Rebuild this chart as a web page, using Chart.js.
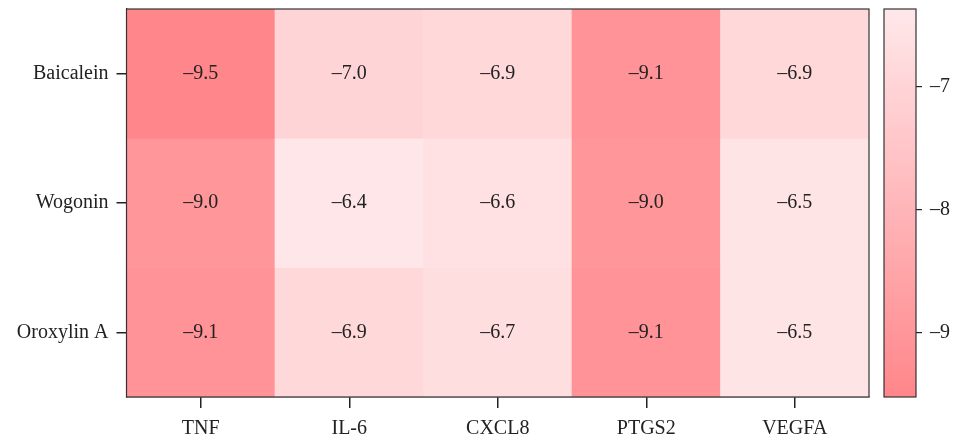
<!DOCTYPE html>
<html>
<head>
<meta charset="utf-8">
<script src="https://cdn.jsdelivr.net/npm/chart.js@4"></script>
<style>
  html, body { margin: 0; padding: 0; background: #fff; }
  #wrap { position: relative; width: 955px; height: 437px; }
  #heat { position: absolute; left: 0; top: 0; }
  #bar { position: absolute; left: 870px; top: 0; }
</style>
</head>
<body>
<div id="wrap">
  <canvas id="heat" width="880" height="437"></canvas>
  <canvas id="bar" width="85" height="437"></canvas>
</div>
<script>
// Heatmap data
const compounds = ['Baicalein', 'Wogonin', 'Oroxylin A'];
const targets = ['TNF', 'IL-6', 'CXCL8', 'PTGS2', 'VEGFA'];
const baicalein = [-9.5, -7.0, -6.9, -9.1, -6.9];
const wogonin = [-9.0, -6.4, -6.6, -9.0, -6.5];
const oroxylinA = [-9.1, -6.9, -6.7, -9.1, -6.5];
const scores = [baicalein, wogonin, oroxylinA];

// colour bar range and ticks
const colorMin = -9.52;
const colorMax = -6.37;
const colorTicks = [-7, -8, -9];

const lowColor = [255, 134, 138];
const highColor = [255, 232, 234];

Chart.defaults.font.family = '"Liberation Serif", "DejaVu Serif", serif';
Chart.defaults.color = '#222';

function colorFor(v) {
    let t = (v - colorMin) / (colorMax - colorMin);
    t = Math.max(0, Math.min(1, t));
    const c = lowColor.map((lo, i) => Math.round(lo + (highColor[i] - lo) * t));
    return `rgb(${c[0]},${c[1]},${c[2]})`;
}

function fmt(v, digits) {
    return v.toFixed(digits).replace('-', '\u2013');
}

// no edge padding for labels, the layout is fixed by hand
function noPad(scale) {
    scale.paddingTop = 0;
    scale.paddingBottom = 0;
    scale.paddingLeft = 0;
    scale.paddingRight = 0;
}

const cellLabels = {
    id: 'cellLabels',
    afterDatasetsDraw(chart) {
        const ctx = chart.ctx;
        ctx.save();
        ctx.font = '20px "Liberation Serif", serif';
        ctx.fillStyle = '#222';
        ctx.textAlign = 'center';
        ctx.textBaseline = 'middle';
        chart.data.datasets.forEach((ds, di) => {
            chart.getDatasetMeta(di).data.forEach((bar, i) => {
                ctx.fillText(fmt(scores[di][i], 1), bar.x, (bar.y + bar.base) / 2);
            });
        });
        ctx.restore();
    }
};

const frame = {
    id: 'frame',
    afterDraw(chart) {
        const a = chart.chartArea;
        const ctx = chart.ctx;
        ctx.save();
        ctx.strokeStyle = '#333';
        ctx.lineWidth = 1.2;
        ctx.strokeRect(a.left, a.top, a.right - a.left, a.bottom - a.top);
        ctx.restore();
    }
};

new Chart(document.getElementById('heat'), {
    type: 'bar',
    data: {
        labels: targets,
        datasets: compounds.map((name, r) => ({
            label: name,
            data: targets.map(() => [r, r + 1]),
            backgroundColor: scores[r].map(colorFor),
            borderWidth: 0,
            categoryPercentage: 1,
            barPercentage: 1,
            grouped: false
        }))
    },
    options: {
        responsive: false,
        animation: false,
        layout: { padding: { top: 9, right: 11, left: 0, bottom: 0 } },
        plugins: { legend: { display: false }, tooltip: { enabled: false } },
        scales: {
            x: {
                type: 'category',
                offset: true,
                grid: { drawOnChartArea: false, drawTicks: true, tickLength: 11, tickColor: '#222', lineWidth: 1.5, offset: false },
                border: { display: true, color: '#333', width: 1.2 },
                ticks: { font: { size: 20 }, padding: 9, color: '#222', maxRotation: 0 },
                afterFit(scale) { scale.height = 40; noPad(scale); }
            },
            y: {
                type: 'linear',
                min: 0,
                max: 3,
                reverse: true,
                afterBuildTicks(scale) {
                    scale.ticks = compounds.map((c, i) => ({ value: i + 0.5 }));
                },
                grid: { drawOnChartArea: false, drawTicks: true, tickLength: 10, tickColor: '#222', lineWidth: 1.5 },
                border: { display: true, color: '#333', width: 1.2 },
                ticks: {
                    font: { size: 20 },
                    padding: 8,
                    color: '#222',
                    callback: (v) => compounds[Math.floor(v)]
                },
                afterFit(scale) { scale.width = 126.5; noPad(scale); }
            }
        }
    },
    plugins: [cellLabels, frame]
});

// colour bar
new Chart(document.getElementById('bar'), {
    type: 'bar',
    data: {
        labels: ['scale'],
        datasets: [{
            data: [[colorMin, colorMax]],
            backgroundColor(context) {
                const chart = context.chart;
                const area = chart.chartArea;
                if (!area) return colorFor(colorMax);
                const ys = chart.scales.y;
                const g = chart.ctx.createLinearGradient(0, ys.getPixelForValue(colorMin), 0, ys.getPixelForValue(colorMax));
                g.addColorStop(0, colorFor(colorMin));
                g.addColorStop(1, colorFor(colorMax));
                return g;
            },
            borderWidth: 0,
            categoryPercentage: 1,
            barPercentage: 1
        }]
    },
    options: {
        responsive: false,
        animation: false,
        layout: { padding: { top: 9, left: 14, right: 0, bottom: 40 } },
        plugins: { legend: { display: false }, tooltip: { enabled: false } },
        scales: {
            x: { display: false },
            y: {
                position: 'right',
                min: colorMin,
                max: colorMax,
                afterBuildTicks(scale) {
                    scale.ticks = colorTicks.map(v => ({ value: v }));
                },
                grid: { drawOnChartArea: false, drawTicks: true, tickLength: 6, tickColor: '#222', lineWidth: 1.2 },
                border: { display: false },
                ticks: { font: { size: 20 }, padding: 8, color: '#222', callback: (v) => fmt(v, 0) },
                afterFit(scale) { scale.width = 39; noPad(scale); }
            }
        }
    },
    plugins: [frame]
});
</script>
</body>
</html>
